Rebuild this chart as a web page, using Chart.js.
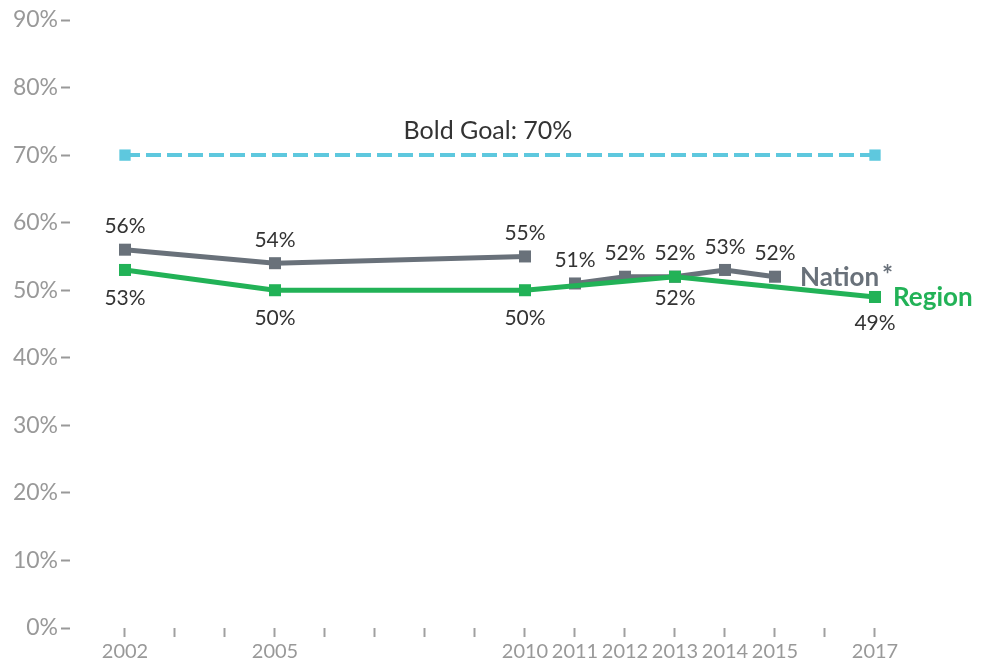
<!DOCTYPE html>
<html>
<head>
<meta charset="utf-8">
<script src="https://cdn.jsdelivr.net/npm/chart.js@4.4.0/dist/chart.umd.min.js"></script>
<style>
  html, body { margin: 0; padding: 0; background: #fff; }
  #wrap { width: 994px; height: 668px; }
</style>
</head>
<body>
<div id="wrap"><canvas id="grafico"></canvas></div>
<script>
// dados
const anosTicks = [2002, 2003, 2004, 2005, 2006, 2007, 2008, 2009, 2010, 2011, 2012, 2013, 2014, 2015, 2016, 2017];
const anosRotulados = [2002, 2005, 2010, 2011, 2012, 2013, 2014, 2015, 2017];

const anosNacao = [2002, 2005, 2010, 2011, 2012, 2013, 2014, 2015];
const valoresNacao = [56, 54, 55, 51, 52, 52, 53, 52];

const anosRegiao = [2002, 2005, 2010, 2013, 2017];
const valoresRegiao = [53, 50, 50, 52, 49];

const anosMeta = [2002, 2017];
const valoresMeta = [70, 70];

const CINZA = '#69717a';
const VERDE = '#22b257';
const AZUL = '#5ec8de';
const FONTE = 'Lato, "Open Sans", sans-serif';

// quebra na linha da nação entre 2010 e 2011
const pontosNacao = [];
anosNacao.forEach((ano, i) => {
    if (ano === 2011) pontosNacao.push({ x: 2010.5, y: null });
    pontosNacao.push({ x: ano, y: valoresNacao[i] });
});
const pontosRegiao = anosRegiao.map((ano, i) => ({ x: ano, y: valoresRegiao[i] }));
const pontosMeta = anosMeta.map((ano, i) => ({ x: ano, y: valoresMeta[i] }));

// rótulos das séries e valores
const rotulosPlugin = {
    id: 'rotulos',
    afterDatasetsDraw(chart) {
        const ctx = chart.ctx;
        const sx = chart.scales.x, sy = chart.scales.y;
        ctx.save();
        ctx.font = '21px ' + FONTE;
        ctx.fillStyle = '#333';
        ctx.textAlign = 'center';
        ctx.textBaseline = 'middle';

        anosNacao.forEach((ano, i) => {
            ctx.fillText(valoresNacao[i] + '%', sx.getPixelForValue(ano), sy.getPixelForValue(valoresNacao[i]) - 23);
        });
        anosRegiao.forEach((ano, i) => {
            const dy = ano === 2017 ? 26 : (ano === 2013 ? 22 : 28);
            ctx.fillText(valoresRegiao[i] + '%', sx.getPixelForValue(ano), sy.getPixelForValue(valoresRegiao[i]) + dy);
        });

        ctx.font = '25px ' + FONTE;
        ctx.fillText('Bold Goal: 70%', sx.getPixelForValue(2009.26), sy.getPixelForValue(70) - 24);

        ctx.textAlign = 'left';
        ctx.font = 'bold 26px ' + FONTE;
        ctx.fillStyle = CINZA;
        const xn = sx.getPixelForValue(2015) + 25;
        const yn = sy.getPixelForValue(52) + 1;
        ctx.fillText('Nation', xn, yn);
        const wn = ctx.measureText('Nation').width;
        ctx.font = 'bold 26px ' + FONTE;
        ctx.fillText('*', xn + wn + 3, yn - 2);

        ctx.fillStyle = VERDE;
        ctx.fillText('Region', sx.getPixelForValue(2017) + 18, sy.getPixelForValue(49) + 1);
        ctx.restore();
    }
};

new Chart(document.getElementById('grafico'), {
    type: 'line',
    data: {
        datasets: [
            {
                label: 'Bold Goal',
                data: pontosMeta,
                borderColor: AZUL,
                backgroundColor: AZUL,
                borderWidth: 4,
                borderDash: [15, 6],
                pointStyle: 'rect',
                pointRadius: 8,
                pointBorderWidth: 0
            },
            {
                label: 'Region',
                data: pontosRegiao,
                borderColor: VERDE,
                backgroundColor: VERDE,
                borderWidth: 5,
                pointStyle: 'rect',
                pointRadius: 8.5,
                pointBorderWidth: 0
            },
            {
                label: 'Nation',
                data: pontosNacao,
                borderColor: CINZA,
                backgroundColor: CINZA,
                borderWidth: 5,
                spanGaps: false,
                pointStyle: 'rect',
                pointRadius: 8.5,
                pointBorderWidth: 0
            }
        ]
    },
    options: {
        responsive: true,
        maintainAspectRatio: false,
        animation: false,
        layout: { padding: { top: 20, right: 69, left: 0, bottom: 0 } },
        plugins: {
            legend: { display: false },
            tooltip: { enabled: false }
        },
        scales: {
            x: {
                type: 'linear',
                min: 2000.9,
                max: 2018,
                afterBuildTicks: (scale) => { scale.ticks = anosTicks.map(v => ({ value: v })); },
                afterFit: (scale) => { scale.height = 40; },
                border: { display: false },
                grid: {
                    drawOnChartArea: false,
                    drawTicks: true,
                    tickLength: 9,
                    tickWidth: 2,
                    tickColor: '#a0a0a0'
                },
                ticks: {
                    autoSkip: false,
                    maxRotation: 0,
                    padding: 3,
                    color: '#999',
                    font: { size: 20, family: FONTE },
                    callback: (v) => anosRotulados.includes(v) ? String(v) : ''
                }
            },
            y: {
                min: 0,
                max: 90,
                afterFit: (scale) => { scale.width = 70; },
                border: { display: false },
                grid: {
                    drawOnChartArea: false,
                    drawTicks: true,
                    tickLength: 9,
                    tickWidth: 2,
                    tickColor: '#999'
                },
                ticks: {
                    stepSize: 10,
                    padding: 3,
                    color: '#999',
                    font: { size: 23, family: FONTE },
                    callback: (v) => v + '%'
                }
            }
        }
    },
    plugins: [rotulosPlugin]
});
</script>
</body>
</html>
